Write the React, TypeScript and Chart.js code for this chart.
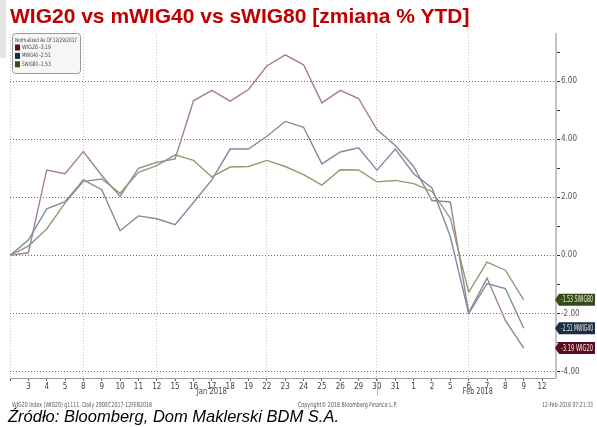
import React, { useEffect, useRef } from 'react';
import { Chart, registerables } from 'chart.js';

Chart.register(...registerables);

// ---- data ----
const dateLabels = ['', '3', '4', '5', '8', '9', '10', '11', '12', '15', '16', '17', '18', '19', '22', '23', '24', '25', '26', '29', '30', '31', '1', '2', '5', '6', '7', '8', '9', '12'];
const wig20 = [0, 0.09, 2.94, 2.81, 3.57, 2.75, 2.03, 3.0, 3.2, 3.32, 5.32, 5.68, 5.31, 5.71, 6.52, 6.9, 6.56, 5.25, 5.68, 5.4, 4.33, 3.78, 3.06, 1.89, 1.84, -1.98, -0.78, -2.24, -3.19];
const mwig40 = [0, 0.53, 1.6, 1.85, 2.6, 2.26, 0.85, 1.36, 1.26, 1.06, 1.82, 2.6, 3.66, 3.66, 4.1, 4.61, 4.41, 3.15, 3.56, 3.7, 2.93, 3.66, 2.81, 2.32, 0.65, -2.0, -0.97, -1.14, -2.51];
const swig80 = [0, 0.32, 0.91, 1.8, 2.55, 2.63, 2.14, 2.86, 3.09, 3.46, 3.27, 2.7, 3.04, 3.06, 3.27, 3.06, 2.78, 2.42, 2.95, 2.94, 2.53, 2.58, 2.47, 2.2, 1.28, -1.27, -0.23, -0.51, -1.53];
const seriesNames = ['WIG20', 'MWIG40', 'SWIG80'];
const lineColors = ['#a27f8d', '#7f8ca0', '#8d9c72'];
const tagColors = ['#5c0b1b', '#1b2c45', '#334d16'];
const majorYTicks = [-4, -2, 0, 2, 4, 6];
const gridDateIdx = [0, 4, 8, 14, 20, 25];
const monthLabels = [{ at: 11, text: 'Jan 2018' }, { at: 25.5, text: 'Feb 2018' }];
const monthSeparators = [20];
const legendTitle = 'Normalized As Of 12/29/2017';
const footerLeft = 'WIG20 Index (WIG20) g1111  Daily 29DEC2017-12FEB2018';
const footerMid = 'Copyright\u00a9 2018 Bloomberg Finance L.P.';
const footerRight = '12-Feb-2018 07:21:33';
const title = 'WIG20 vs mWIG40 vs sWIG80 [zmiana % YTD]';
const source = '\u0179r\u00f3d\u0142o: Bloomberg, Dom Maklerski BDM S.A.';

const NARROW = '"Liberation Sans Narrow", "DejaVu Sans Condensed", "Liberation Sans", sans-serif';

const toPoints = (arr: number[]) => arr.map((v, i) => ({ x: i, y: v }));

const overlayPlugin = {
  id: 'bbgOverlay',
  afterDraw(chart: any) {
    const ctx = chart.ctx as CanvasRenderingContext2D;
    const xs = chart.scales.x;
    const ys = chart.scales.y;
    const area = chart.chartArea;
    const all = [wig20, mwig40, swig80];
    ctx.save();

    // month separators
    ctx.strokeStyle = '#bbbbbb';
    ctx.lineWidth = 1;
    monthSeparators.forEach((i) => {
      const x = Math.round(xs.getPixelForValue(i)) + 0.5;
      ctx.beginPath();
      ctx.moveTo(x, area.bottom);
      ctx.lineTo(x, area.bottom + 18);
      ctx.stroke();
    });

    // month labels
    ctx.fillStyle = '#444';
    ctx.font = `8px ${NARROW}`;
    ctx.textAlign = 'center';
    ctx.textBaseline = 'middle';
    monthLabels.forEach((m) => {
      ctx.fillText(m.text, xs.getPixelForValue(m.at), area.bottom + 14, 30);
    });

    // footer
    ctx.fillStyle = '#555';
    ctx.font = `7px ${NARROW}`;
    ctx.textAlign = 'left';
    ctx.fillText(footerLeft, 12, 405, 140);
    ctx.fillText(footerMid, 298, 405, 99);
    ctx.fillText(footerRight, 542, 405, 51);

    // legend box
    const bx = 12.5, by = 33.5, bw = 68, bh = 40;
    ctx.beginPath();
    ctx.roundRect(bx, by, bw, bh, 3);
    ctx.fillStyle = '#f6f6f6';
    ctx.fill();
    ctx.strokeStyle = '#9a9a9a';
    ctx.lineWidth = 1;
    ctx.stroke();
    ctx.fillStyle = '#444';
    ctx.font = `6px ${NARROW}`;
    ctx.fillText(legendTitle, 15, 40, 62);
    seriesNames.forEach((n, k) => {
      const yy = 47.5 + k * 8.4;
      ctx.fillStyle = tagColors[k];
      ctx.fillRect(15, yy - 3, 5, 6);
      ctx.fillStyle = '#444';
      ctx.fillText(n, 22, yy, 16);
      const last = all[k][all[k].length - 1];
      ctx.fillText(last.toFixed(2), 39, yy, 12);
    });

    // value tags on right
    ctx.font = `8px ${NARROW}`;
    seriesNames.forEach((n, k) => {
      const last = all[k][all[k].length - 1];
      const cy = ys.getPixelForValue(last);
      const h = 12;
      ctx.beginPath();
      ctx.moveTo(555, cy);
      ctx.lineTo(559, cy - h / 2);
      ctx.lineTo(595, cy - h / 2);
      ctx.lineTo(595, cy + h / 2);
      ctx.lineTo(559, cy + h / 2);
      ctx.closePath();
      ctx.fillStyle = tagColors[k];
      ctx.fill();
      ctx.fillStyle = '#f2f2e6';
      ctx.textAlign = 'left';
      ctx.fillText(`${last.toFixed(2)} ${n}`, 561, cy + 0.5, 32);
    });

    ctx.restore();
  },
};

export default function App() {
  const ref = useRef<HTMLCanvasElement | null>(null);

  useEffect(() => {
    if (!ref.current) return;
    const chart = new Chart(ref.current, {
      type: 'line',
      data: {
        datasets: [
          { label: seriesNames[2], data: toPoints(swig80), borderColor: lineColors[2], borderWidth: 1.4, pointRadius: 0, tension: 0 },
          { label: seriesNames[1], data: toPoints(mwig40), borderColor: lineColors[1], borderWidth: 1.4, pointRadius: 0, tension: 0 },
          { label: seriesNames[0], data: toPoints(wig20), borderColor: lineColors[0], borderWidth: 1.4, pointRadius: 0, tension: 0 },
        ],
      },
      options: {
        animation: false,
        responsive: false,
        maintainAspectRatio: false,
        layout: { padding: { left: 10, top: 34, right: 0, bottom: 0 } },
        plugins: { legend: { display: false }, tooltip: { enabled: false } },
        scales: {
          x: {
            type: 'linear',
            min: 0,
            max: 29.76,
            afterFit: (s: any) => { s.height = 49; },
            ticks: {
              stepSize: 1,
              autoSkip: false,
              includeBounds: false,
              maxRotation: 0,
              padding: 1,
              color: '#444',
              font: { size: 8, family: NARROW },
              callback: (v: any) => dateLabels[v as number] ?? '',
            },
            grid: {
              color: (c: any) => (gridDateIdx.includes(c.tick?.value) ? '#c4c4c4' : 'rgba(0,0,0,0)'),
              tickColor: '#666',
              tickLength: 3,
              lineWidth: 1,
            },
            border: { display: true, color: '#999', width: 1, dash: [1, 2] },
          },
          y: {
            position: 'right',
            min: -4.22,
            max: 7.62,
            afterFit: (s: any) => { s.width = 41; },
            ticks: {
              stepSize: 1,
              includeBounds: false,
              padding: 1,
              color: '#555',
              font: { size: 8, family: NARROW },
              callback: (v: any) => (majorYTicks.includes(v as number) ? (v as number).toFixed(2) : ''),
            },
            grid: {
              color: (c: any) => (majorYTicks.includes(c.tick?.value) ? '#6a6a6a' : 'rgba(0,0,0,0)'),
              tickColor: '#333',
              tickLength: 4,
              lineWidth: 1,
            },
            border: { display: true, color: '#c4c4c4', width: 2, dash: [1, 2] },
          },
        },
      },
      plugins: [overlayPlugin],
    });
    return () => chart.destroy();
  }, []);

  return (
    <div style={{ position: 'fixed', left: 0, top: 0, width: 597, height: 427, background: '#fff', overflow: 'hidden' }}>
      <div style={{ position: 'absolute', left: 0, top: 0, width: 6, height: 58, background: '#e4e4e4' }} />
      <canvas ref={ref} width={597} height={427} style={{ position: 'absolute', left: 0, top: 0, width: 597, height: 427 }} />
      <div style={{ position: 'absolute', left: 10, top: 4, font: 'bold 21px "Liberation Sans", Arial, sans-serif', color: '#c00000', whiteSpace: 'nowrap', lineHeight: '24px' }}>
        {title}
      </div>
      <div style={{ position: 'absolute', left: 8, top: 407, font: 'italic 16.5px "Liberation Sans", Arial, sans-serif', color: '#000', whiteSpace: 'nowrap', lineHeight: '19px' }}>
        {source}
      </div>
    </div>
  );
}
